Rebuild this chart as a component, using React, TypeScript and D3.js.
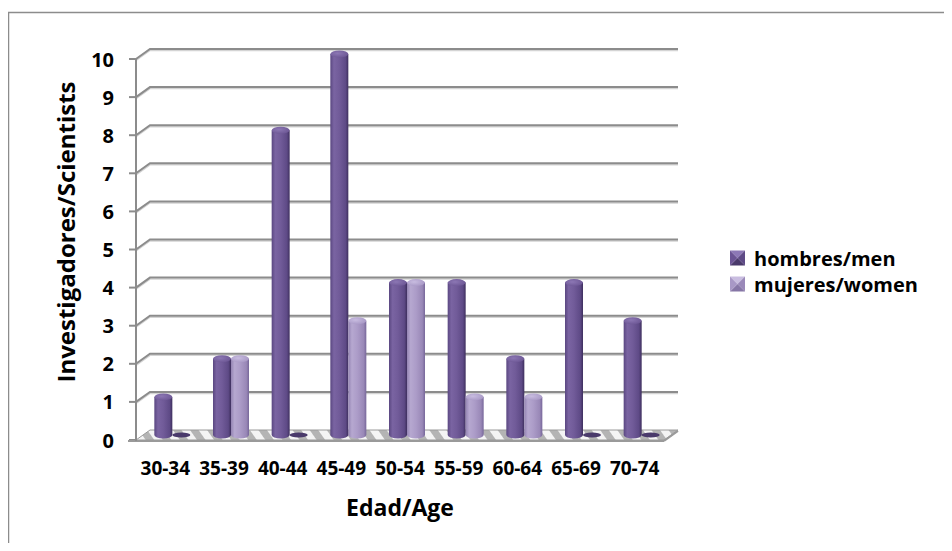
import React from "react";
import * as d3 from "d3";

const categories = ["30-34", "35-39", "40-44", "45-49", "50-54", "55-59", "60-64", "65-69", "70-74"];
const menValues = [1, 2, 8, 10, 4, 4, 2, 4, 3];
const womenValues = [0, 2, 0, 3, 4, 1, 1, 0, 0];
const yTicks = [0, 1, 2, 3, 4, 5, 6, 7, 8, 9, 10];
const seriesNames = ["hombres/men", "mujeres/women"];
const yTitle = "Investigadores/Scientists";
const xTitle = "Edad/Age";

const W = 952;
const H = 551;
const FONT = "'Open Sans', 'Liberation Sans', sans-serif";
const DX = 14;
const DY = -10;

export default function App() {
  const x = d3.scaleBand<string>().domain(categories).range([136, 664]).paddingInner(0).paddingOuter(0);
  const yFront = d3.scaleLinear().domain([0, 10]).range([440, 59]);
  const barW = 18;
  const ry = 3.5;
  const half = { x: DX / 2, y: DY / 2 };

  const series = [
    { name: seriesNames[0], values: menValues, grad: "gMen", zero: "#4A3A6B" },
    { name: seriesNames[1], values: womenValues, grad: "gWomen", zero: "#4A3A6B" },
  ];

  const floorPts = [
    [136, yFront(0)],
    [136 + DX, yFront(0) + DY],
    [664 + DX, yFront(0) + DY],
    [664, yFront(0)],
  ];

  return (
    <div style={{ margin: -8 }}>
      <svg width={W} height={H} style={{ display: "block", background: "#fff" }}>
        <defs>
          <linearGradient id="gMen" x1="0" x2="1" y1="0" y2="0">
            <stop offset="0" stopColor="#5A4781" />
            <stop offset="0.2" stopColor="#7A64A2" />
            <stop offset="0.5" stopColor="#715B99" />
            <stop offset="0.85" stopColor="#5E4A86" />
            <stop offset="1" stopColor="#3E2F5E" />
          </linearGradient>
          <linearGradient id="gWomen" x1="0" x2="1" y1="0" y2="0">
            <stop offset="0" stopColor="#9484B3" />
            <stop offset="0.2" stopColor="#B6A8D0" />
            <stop offset="0.5" stopColor="#AC9CC8" />
            <stop offset="0.85" stopColor="#9988B7" />
            <stop offset="1" stopColor="#77679A" />
          </linearGradient>
          <radialGradient id="capMen" cx="0.4" cy="0.4" r="0.7">
            <stop offset="0" stopColor="#8C77B4" />
            <stop offset="1" stopColor="#6A5492" />
          </radialGradient>
          <radialGradient id="capWomen" cx="0.4" cy="0.4" r="0.7">
            <stop offset="0" stopColor="#C8BCE0" />
            <stop offset="1" stopColor="#A595C3" />
          </radialGradient>
          <pattern id="floorPat" width="14" height="14" patternUnits="userSpaceOnUse" patternTransform="rotate(-35)">
            <rect width="14" height="14" fill="#B4B4B4" />
            <rect width="7" height="14" fill="#F4F4F4" />
          </pattern>
        </defs>

        {/* outer border */}
        <rect x={8.5} y={12.5} width={1000} height={600} fill="none" stroke="#8C8C8C" strokeWidth={1.5} />

        {/* back wall gridlines with diagonal connectors */}
        {yTicks.map((t) => {
          const yf = yFront(t);
          return (
            <g key={"g" + t}>
              {t > 0 && (
                <polyline
                  points={`136,${yf + 1.5} ${136 + DX},${yf + DY + 1.5} ${664 + DX},${yf + DY + 1.5}`}
                  fill="none"
                  stroke="#D4D4D4"
                  strokeWidth={1.5}
                />
              )}
              {t > 0 && (
                <polyline
                  points={`136,${yf} ${136 + DX},${yf + DY} ${664 + DX},${yf + DY}`}
                  fill="none"
                  stroke="#8C8C8C"
                  strokeWidth={2}
                />
              )}
              <line x1={129} x2={136} y1={yf} y2={yf} stroke="#8C8C8C" strokeWidth={2} />
              <text
                x={114}
                y={yf}
                textAnchor="end"
                dominantBaseline="central"
                fontFamily={FONT}
                fontWeight={700}
                fontSize={20}
                fill="#000"
              >
                {t}
              </text>
            </g>
          );
        })}

        {/* floor */}
        <polygon points={floorPts.map((p) => p.join(",")).join(" ")} fill="url(#floorPat)" stroke="#9A9A9A" strokeWidth={1} />
        <line x1={128} x2={664} y1={yFront(0) + 1} y2={yFront(0) + 1} stroke="#9A9A9A" strokeWidth={2} />
        <line x1={664} x2={664 + DX} y1={yFront(0) + 1} y2={yFront(0) + DY + 1} stroke="#9A9A9A" strokeWidth={2} />

        {/* front left axis */}
        <line x1={136} x2={136} y1={yFront(10) - 1} y2={yFront(0) + 1} stroke="#8C8C8C" strokeWidth={2} />

        {/* bars */}
        {categories.map((c, i) => {
          const bx = (x(c) as number) + (x.bandwidth() - 2 * barW) / 2 + half.x;
          const yb = yFront(0) + half.y;
          return (
            <g key={c}>
              {series.map((s, si) => {
                const v = s.values[i];
                const left = bx + si * barW;
                const cx = left + barW / 2;
                if (v <= 0) {
                  return <ellipse key={s.name} cx={cx} cy={yb} rx={barW / 2} ry={ry - 1} fill={s.zero} />;
                }
                const yt = yFront(v) + half.y;
                const d = `M${left},${yt} L${left},${yb} A${barW / 2},${ry} 0 0 0 ${left + barW},${yb} L${left + barW},${yt} Z`;
                return (
                  <g key={s.name}>
                    <path d={d} fill={`url(#${s.grad})`} />
                    <ellipse cx={cx} cy={yt} rx={barW / 2} ry={ry} fill={si === 0 ? "url(#capMen)" : "url(#capWomen)"} />
                  </g>
                );
              })}
            </g>
          );
        })}

        {/* x labels */}
        {categories.map((c) => (
          <text
            key={"xl" + c}
            x={(x(c) as number) + x.bandwidth() / 2}
            y={468}
            textAnchor="middle"
            dominantBaseline="central"
            fontFamily={FONT}
            fontWeight={700}
            fontSize={19}
            fill="#000"
          >
            {c}
          </text>
        ))}

        {/* axis titles */}
        <text x={400} y={507} textAnchor="middle" dominantBaseline="central" fontFamily={FONT} fontWeight={700} fontSize={23} fill="#000">
          {xTitle}
        </text>
        <text
          transform={`translate(65,232) rotate(-90)`}
          textAnchor="middle"
          dominantBaseline="central"
          fontFamily={FONT}
          fontWeight={700}
          fontSize={24}
          fill="#000"
        >
          {yTitle}
        </text>

        {/* legend */}
        {series.map((s, i) => {
          const ly = 258 + i * 26;
          const lx = 730;
          const sz = 15;
          const base = i === 0 ? "#6B5494" : "#A898C6";
          const light = i === 0 ? "#8D78B6" : "#C9BDE0";
          const dark = i === 0 ? "#4A3A6B" : "#8676A6";
          const mid = i === 0 ? "#5E4A86" : "#9A89B9";
          const x0 = lx, y0 = ly - sz / 2, x1 = lx + sz, y1 = ly + sz / 2;
          const cx = lx + sz / 2, cy = ly;
          return (
            <g key={"lg" + s.name}>
              <polygon points={`${x0},${y0} ${x1},${y0} ${cx},${cy}`} fill={light} />
              <polygon points={`${x1},${y0} ${x1},${y1} ${cx},${cy}`} fill={mid} />
              <polygon points={`${x0},${y1} ${x1},${y1} ${cx},${cy}`} fill={dark} />
              <polygon points={`${x0},${y0} ${x0},${y1} ${cx},${cy}`} fill={base} />
              <text x={754} y={ly} dominantBaseline="central" fontFamily={FONT} fontWeight={700} fontSize={20} fill="#000">
                {s.name}
              </text>
            </g>
          );
        })}
      </svg>
    </div>
  );
}
